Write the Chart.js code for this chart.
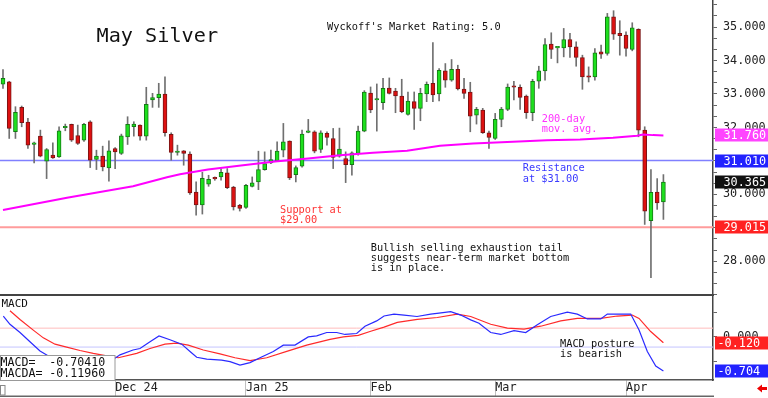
<!DOCTYPE html>
<html><head><meta charset="utf-8">
<script src="https://cdn.jsdelivr.net/npm/chart.js@4.4.1/dist/chart.umd.min.js"></script>
<style>
html,body{margin:0;padding:0;background:#fff;overflow:hidden}
#wrap{position:relative;width:768px;height:398px;background:#fff}
#c1{position:absolute;left:0;top:0}
#c2{position:absolute;left:0;top:296px}
</style></head><body>
<div id="wrap"><canvas id="c1" width="768" height="296"></canvas><canvas id="c2" width="768" height="102"></canvas></div>
<script>
// ---- data ----
const openP = [33.29,33.36,31.87,32.60,32.16,31.49,31.74,30.99,31.17,31.12,
31.99,32.09,31.76,31.62,32.17,31.04,31.14,30.79,31.37,31.22,
31.72,32.02,32.07,31.74,32.82,32.89,33.00,31.79,31.25,31.30,
31.20,30.07,29.68,30.30,30.48,30.52,30.64,30.22,29.67,29.61,
30.24,30.37,30.74,30.94,31.00,31.32,31.59,30.59,30.84,31.85,
31.87,31.34,31.82,31.67,31.14,31.07,30.89,31.22,31.89,33.03,
32.82,32.74,33.18,33.09,32.94,32.39,32.77,32.57,33.00,33.32,
33.00,33.69,33.41,33.74,33.15,33.06,32.37,32.52,31.84,31.67,
32.24,32.54,33.23,33.20,32.94,32.44,33.38,33.69,34.49,34.38,
34.38,34.63,34.41,34.09,33.53,33.51,34.26,34.21,35.31,34.81,
34.76,34.33,34.93,31.92,29.21,30.07,29.77];
const highP = [33.73,33.38,32.62,32.64,32.27,31.56,31.92,31.37,31.54,32.02,
32.10,32.10,32.07,32.12,32.20,31.32,31.44,31.60,31.40,31.80,
32.32,32.17,32.08,33.20,33.02,33.32,33.51,31.84,31.47,31.31,
31.27,30.37,30.66,30.57,30.52,30.77,30.77,30.24,29.70,30.30,
30.52,31.29,31.27,31.32,31.57,32.12,31.60,30.85,31.92,32.24,
31.90,31.90,31.87,31.97,31.98,31.27,31.27,32.04,33.10,33.21,
33.30,33.47,33.48,33.17,33.44,33.06,33.06,33.17,33.36,34.54,
33.76,33.91,34.03,33.86,33.47,33.35,32.60,32.57,31.89,32.42,
32.60,33.30,33.38,33.27,32.97,33.44,33.83,34.66,34.83,34.41,
34.96,34.81,34.56,34.16,33.81,34.36,34.46,35.41,35.49,35.19,
34.86,35.13,34.95,32.02,30.74,30.47,30.59];
const lowP = [33.17,31.67,31.67,32.02,31.37,30.94,31.12,30.47,31.07,31.10,
31.90,31.58,31.49,31.58,30.80,30.74,30.70,30.39,30.77,31.19,
31.49,31.74,31.62,31.62,32.60,32.60,31.74,31.02,31.17,30.87,
30.00,29.38,29.41,30.24,30.42,30.42,30.17,29.53,29.50,29.58,
30.22,30.14,30.72,30.92,30.98,31.12,30.44,30.37,30.81,31.84,
31.24,31.25,31.47,30.77,31.11,30.35,30.57,31.17,31.87,32.44,
31.89,32.54,33.00,32.44,32.44,32.37,31.94,32.20,32.77,32.77,
32.79,33.20,33.38,33.12,32.87,31.87,32.10,31.82,31.37,31.64,
32.02,32.50,32.82,32.54,32.27,32.20,33.17,33.41,34.06,33.93,
34.11,34.09,33.83,33.14,33.36,33.41,34.06,34.16,34.63,34.16,
34.13,34.29,31.72,29.10,27.51,29.55,29.25];
const closeP = [33.47,31.97,32.45,32.14,31.47,31.54,31.14,31.34,31.09,31.90,
32.02,31.62,31.52,32.09,31.02,31.14,30.82,31.30,31.27,31.75,
32.09,32.10,31.74,32.69,32.89,33.00,31.84,31.25,31.28,31.22,
30.04,29.68,30.48,30.45,30.46,30.66,30.20,29.62,29.58,30.27,
30.34,30.74,30.92,31.04,31.29,31.57,30.49,30.80,31.80,31.87,
31.29,31.84,31.70,31.10,31.35,30.89,31.24,31.89,33.06,32.52,
32.85,33.17,33.02,32.94,32.47,32.79,32.57,33.02,33.29,32.97,
33.71,33.41,33.74,33.15,33.02,32.34,32.54,31.84,31.70,32.24,
32.55,33.21,33.20,32.90,32.44,33.38,33.69,34.48,34.33,34.40,
34.63,34.41,34.09,33.51,33.50,34.23,34.19,35.31,34.79,34.74,
34.36,34.98,31.92,29.50,30.06,29.74,30.365];

// 200-day moving average, read at these bar positions
const maIdx = [0,4.82,10.27,15.57,20.87,26.32,28.41,32.9,38.2,43.66,48.96,54.09,59.39,64.85,70.14,75.44,81.86,87.32,92.62,97.91,101.77,102.73,104.33,106];
const maVal = [29.53,29.70,29.90,30.07,30.24,30.51,30.60,30.74,30.86,30.98,31.07,31.17,31.24,31.30,31.45,31.52,31.57,31.62,31.64,31.69,31.75,31.79,31.77,31.76];

// MACD (blue) and MACDA signal (red)
const macdIdx = [0.05,1.12,2.73,4.33,5.94,7.22,9.15,12.36,15.57,17.98,18.78,20.87,21.99,23.6,25.04,26.8,28.68,30.02,31.09,32.7,35.1,36.44,38.04,39.65,41.25,43.39,44.99,46.87,49.0,50.35,51.96,53.56,54.9,56.77,58.1,59.98,61.16,62.76,64.37,66.45,68.65,69.98,71.86,73.47,75.07,76.4,78.28,79.89,82.02,83.9,85.76,87.91,90.58,92.18,93.79,95.94,97.0,98.88,100.75,102.09,103.42,104.77,106];
const macdVal = [0.43,0.26,0.09,-0.10,-0.29,-0.39,-0.47,-0.52,-0.52,-0.44,-0.37,-0.27,-0.24,-0.10,0.02,-0.06,-0.15,-0.30,-0.42,-0.46,-0.48,-0.51,-0.58,-0.53,-0.43,-0.30,-0.17,-0.17,0.00,0.02,0.09,0.09,0.05,0.07,0.22,0.33,0.43,0.47,0.45,0.42,0.47,0.49,0.52,0.45,0.35,0.28,0.09,0.05,0.13,0.09,0.25,0.42,0.51,0.47,0.37,0.37,0.47,0.47,0.47,0.14,-0.30,-0.60,-0.7041];
const sigIdx = [1.12,2.73,4.86,6.47,8.35,10.22,12.36,14.49,16.65,18.51,21.46,23.6,26.0,27.88,29.74,32.15,34.83,37.24,39.65,42.33,45.54,48.75,52.49,54.62,57.03,58.9,61.16,63.29,66.5,69.71,72.92,75.07,78.28,80.95,83.63,86.31,89.52,92.18,95.94,98.6,101.0,102.09,103.96,106];
const sigVal = [0.54,0.36,0.14,-0.02,-0.15,-0.21,-0.28,-0.34,-0.39,-0.43,-0.34,-0.24,-0.15,-0.13,-0.17,-0.27,-0.35,-0.43,-0.49,-0.43,-0.30,-0.17,-0.05,0.00,0.03,0.11,0.20,0.30,0.36,0.40,0.47,0.42,0.26,0.18,0.16,0.22,0.33,0.38,0.38,0.43,0.45,0.38,0.11,-0.1196];

const resistanceLevel = 31.01;
const supportLevel = 29.015;
const macdBandHigh = 0.18;
const macdBandLow = -0.21;

const priceTickLabels = [28,29,30,31,32,33,34,35];
const macdTickValues = [-0.5,0,0.5];
const macdTickLabels = ['','0.000',''];
const dateTickIdx = [18,39,59,79,100];
const dateTickLabels = ['Dec 24','Jan 25','Feb','Mar','Apr'];

// ---- rendering ----
const MONO = "'DejaVu Sans Mono', monospace";
const XMIN = -0.48, XMAX = 113.96;

const bodies = openP.map((o,i)=>({x:i, y:[Math.min(o,closeP[i]), Math.max(o,closeP[i])]}));
const wicks = lowP.map((l,i)=>({x:i, y:[l, highP[i]]}));
const up = openP.map((o,i)=>closeP[i] >= o);
const maPts = maIdx.map((x,i)=>({x, y:maVal[i]}));
const hline = v => [{x:XMIN,y:v},{x:XMAX,y:v}];
function noPad(s){ s.paddingTop = 0; s.paddingBottom = 0; s.paddingLeft = 0; s.paddingRight = 0; }

function txt(ctx, s, x, y, color, size){
  ctx.fillStyle = color; ctx.font = size + 'px ' + MONO;
  ctx.textBaseline = 'alphabetic'; ctx.textAlign = 'left';
  ctx.fillText(s, x, y);
}
function badge(ctx, yPix, label, col, tx){
  ctx.fillStyle = col; ctx.fillRect(715, Math.round(yPix) - 6.5, 53, 13);
  ctx.fillStyle = '#fff'; ctx.font = '11.8px ' + MONO;
  ctx.textBaseline = 'middle'; ctx.textAlign = 'left';
  ctx.fillText(label, tx, Math.round(yPix) + 0.5);
}

const pricePlugin = {
  id: 'priceDeco',
  afterDraw(chart){
    const ctx = chart.ctx, y = chart.scales.y;
    ctx.save();
    ctx.strokeStyle = '#444'; ctx.lineWidth = 2;
    ctx.beginPath(); ctx.moveTo(0,295); ctx.lineTo(714,295); ctx.stroke();
    badge(ctx, y.getPixelForValue(maVal[maVal.length-1]), maVal[maVal.length-1].toFixed(3), '#ff44ff', 723.5);
    badge(ctx, y.getPixelForValue(resistanceLevel), resistanceLevel.toFixed(3), '#2222ff', 723.5);
    const last = closeP[closeP.length-1];
    badge(ctx, y.getPixelForValue(last), last.toFixed(3), '#111111', 723.5);
    badge(ctx, y.getPixelForValue(supportLevel), supportLevel.toFixed(3), '#ff2222', 723.5);
    txt(ctx, 'May Silver', 96.5, 41.7, '#111', 20.2);
    txt(ctx, "Wyckoff's Market Rating: 5.0", 327, 30, '#111', 10.3);
    txt(ctx, 'Support at', 280, 212.7, '#ff3333', 10.3);
    txt(ctx, '$29.00', 280, 222.7, '#ff3333', 10.3);
    txt(ctx, 'Resistance', 522.7, 171, '#3a3aff', 10.3);
    txt(ctx, 'at $31.00', 522.7, 181.5, '#3a3aff', 10.3);
    txt(ctx, '200-day', 541.7, 121.5, '#ff33ff', 10.3);
    txt(ctx, 'mov. avg.', 541.7, 131.5, '#ff33ff', 10.3);
    txt(ctx, 'Bullish selling exhaustion tail', 370.7, 250.7, '#111', 10.3);
    txt(ctx, 'suggests near-term market bottom', 370.7, 261, '#111', 10.3);
    txt(ctx, 'is in place.', 370.7, 271, '#111', 10.3);
    ctx.restore();
  }
};

new Chart(document.getElementById('c1'), {
  type: 'line',
  data: { datasets: [
    {type:'line', data: maPts, borderColor:'#ff00ff', borderWidth:2, pointRadius:0, tension:0, order:0},
    {type:'bar', data: bodies, grouped:false, barThickness:4, borderSkipped:false, minBarLength:1.5,
      backgroundColor: up.map(u=>u?'#1de01d':'#dd1111'), borderColor: up.map(u=>u?'#147a14':'#7a1414'), borderWidth:1, order:1},
    {type:'bar', data: wicks, grouped:false, barThickness:1, backgroundColor:'#707070', borderWidth:0, order:2},
    {type:'line', data: hline(resistanceLevel), borderColor:'#8080ff', borderWidth:1.6, pointRadius:0, order:3},
    {type:'line', data: hline(supportLevel), borderColor:'#ff9c9c', borderWidth:1.8, pointRadius:0, order:3}
  ]},
  options: {
    responsive:false, animation:false, maintainAspectRatio:false,
    layout:{padding:0},
    plugins:{legend:{display:false}, tooltip:{enabled:false}},
    scales:{
      x:{type:'linear', min:XMIN, max:XMAX, offset:false, display:false},
      y:{type:'linear', position:'right', min:26.96, max:35.81,
        afterFit(s){ s.width = 55; noPad(s); },
        afterBuildTicks(s){ const t=[]; for(let k=81;k<=107;k++) t.push({value:k/3}); s.ticks=t; },
        ticks:{autoSkip:false, padding:6, color:'#222', font:{family:MONO, size:11.8},
          callback(v){ const r=Math.round(v); return (Math.abs(v-r)<1e-6 && priceTickLabels.includes(r)) ? r.toFixed(3) : ''; }},
        grid:{drawOnChartArea:false, tickLength:4, color:'#666'},
        border:{display:true, color:'#444', width:1.5}
      }
    }
  },
  plugins:[pricePlugin]
});

const macdPlugin = {
  id:'macdDeco',
  afterDraw(chart){
    const ctx = chart.ctx, y = chart.scales.y;
    ctx.save();
    // legend box
    ctx.fillStyle = '#fff'; ctx.fillRect(0, 59, 115, 25);
    ctx.strokeStyle = '#999'; ctx.lineWidth = 1; ctx.strokeRect(0.5, 59.5, 114.5, 25);
    txt(ctx, 'MACD=  ' + macdVal[macdVal.length-1].toFixed(5), 0.5, 70, '#111', 11.6);
    txt(ctx, 'MACDA= ' + sigVal[sigVal.length-1].toFixed(5), 0.5, 81.3, '#111', 11.6);
    txt(ctx, 'MACD', 1.5, 11.3, '#111', 11);
    txt(ctx, 'MACD posture', 560, 50.7, '#111', 10.3);
    txt(ctx, 'is bearish', 560, 60.7, '#111', 10.3);
    badge(ctx, y.getPixelForValue(sigVal[sigVal.length-1]), sigVal[sigVal.length-1].toFixed(3), '#ff2222', 717.5);
    badge(ctx, y.getPixelForValue(macdVal[macdVal.length-1]), macdVal[macdVal.length-1].toFixed(3), '#2222ff', 717.5);
    // bottom frame
    ctx.strokeStyle = '#666'; ctx.lineWidth = 1.5;
    ctx.beginPath(); ctx.moveTo(0,100.2); ctx.lineTo(714,100.2); ctx.stroke();
    ctx.strokeStyle = '#888'; ctx.lineWidth = 1; ctx.strokeRect(0.5, 89.5, 4.5, 9.5);
    // red arrow
    ctx.fillStyle = '#ee0000';
    ctx.beginPath();
    ctx.moveTo(757,92.5); ctx.lineTo(762,88.5); ctx.lineTo(762,91); ctx.lineTo(767,91);
    ctx.lineTo(767,94); ctx.lineTo(762,94); ctx.lineTo(762,96.5); ctx.closePath(); ctx.fill();
    ctx.restore();
  }
};

new Chart(document.getElementById('c2'), {
  type:'line',
  data:{ datasets:[
    {data: macdIdx.map((x,i)=>({x, y:macdVal[i]})), borderColor:'#2a2aff', borderWidth:1.2, pointRadius:0, tension:0, order:0},
    {data: sigIdx.map((x,i)=>({x, y:sigVal[i]})), borderColor:'#ff2a2a', borderWidth:1.2, pointRadius:0, tension:0, order:1},
    {data: hline(macdBandHigh), borderColor:'#ffbcbc', borderWidth:1, pointRadius:0, order:2},
    {data: hline(macdBandLow), borderColor:'#c4c4ff', borderWidth:1, pointRadius:0, order:2}
  ]},
  options:{
    responsive:false, animation:false, maintainAspectRatio:false,
    layout:{padding:0},
    plugins:{legend:{display:false}, tooltip:{enabled:false}},
    scales:{
      x:{type:'linear', min:XMIN, max:XMAX, offset:false, position:'bottom',
        afterBuildTicks(s){ s.ticks = dateTickIdx.map(v=>({value:v})); },
        afterFit(s){ s.height = 18; noPad(s); },
        ticks:{autoSkip:false, maxRotation:0, align:'start', padding:-15, color:'#222', font:{family:MONO, size:11.8},
          callback(v){ const k = dateTickIdx.indexOf(v); return k>=0 ? dateTickLabels[k] : ''; }},
        grid:{drawOnChartArea:false, drawTicks:true, tickLength:16, color:'#c0c0c0'},
        border:{display:true, color:'#555', width:1.5}
      },
      y:{type:'linear', position:'right', min:-0.889, max:0.843,
        afterFit(s){ s.width = 55; noPad(s); },
        afterBuildTicks(s){ s.ticks = macdTickValues.map(v=>({value:v})); },
        ticks:{autoSkip:false, padding:6, color:'#222', font:{family:MONO, size:11.8},
          callback(v){ const k = macdTickValues.indexOf(v); return k>=0 ? macdTickLabels[k] : ''; }},
        grid:{drawOnChartArea:false, tickLength:4, color:'#666'},
        border:{display:true, color:'#444', width:1.5}
      }
    }
  },
  plugins:[macdPlugin]
});
</script>
</body></html>
